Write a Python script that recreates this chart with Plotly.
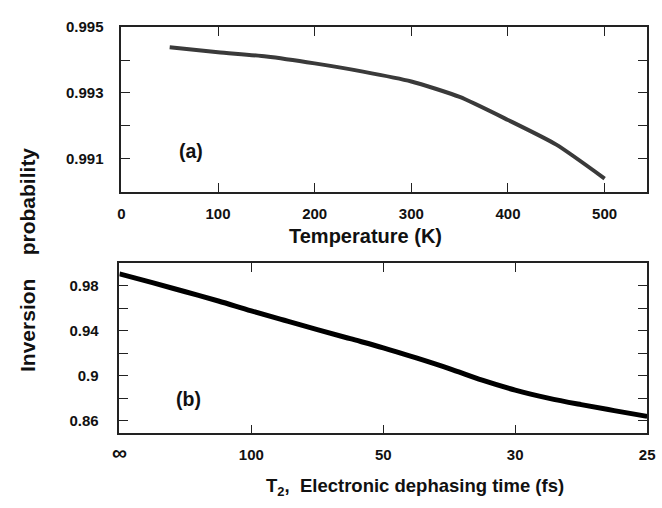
import plotly.graph_objects as go

# Panel (a): temperature dependence
temp_K = [50, 100, 150, 200, 250, 300, 350, 400, 450, 500]
prob_a = [0.99439, 0.99424, 0.99411, 0.99390, 0.99365, 0.99335, 0.99288, 0.99218, 0.99143, 0.99040]

# Panel (b): electronic dephasing (positions along axis labelled inf,100,50,30,25)
t2_pos = [0, 0.25, 0.5, 0.75, 1.0, 1.25, 1.5, 1.75, 2.0, 2.25, 2.5, 2.75, 3.0, 3.25, 3.5, 3.75, 4.0]
prob_b = [0.9907, 0.9829, 0.9748, 0.9666, 0.9578, 0.9495, 0.9412, 0.9331, 0.9250, 0.9160,
          0.9065, 0.8962, 0.8874, 0.8803, 0.8745, 0.8692, 0.8641]
t2_tickvals = [0, 1, 2, 3, 4]
t2_ticktext = ["<span style='font-size:21px'>∞</span>", "100", "50", "30", "25"]

a_xticks = [0, 100, 200, 300, 400, 500]
a_yticks = [0.991, 0.993, 0.995]
a_yticktext = ["0.991", "0.993", "0.995"]
a_yminor = [0.992, 0.994]
b_yticks = [0.86, 0.90, 0.94, 0.98]
b_yticktext = ["0.86", "0.9", "0.94", "0.98"]
b_yminor = [0.88, 0.92, 0.96]

W, H = 662, 508
FONT = "Liberation Sans, Arial, Helvetica, sans-serif"

def px(x):
    return x / W

def py(y):
    return 1 - y / H

fig = go.Figure()
fig.add_trace(go.Scatter(x=temp_K, y=prob_a, mode="lines",
                         line=dict(color="#3a3a3a", width=4, shape="spline", smoothing=0.6),
                         xaxis="x", yaxis="y", showlegend=False))
fig.add_trace(go.Scatter(x=t2_pos, y=prob_b, mode="lines",
                         line=dict(color="#000000", width=5, shape="spline", smoothing=1.0),
                         xaxis="x2", yaxis="y2", showlegend=False))

tickfont = dict(family=FONT, size=15, color="#111", weight="bold")
common = dict(showline=True, linecolor="#222", linewidth=1.6, mirror="ticks",
              ticks="inside", ticklen=9, tickwidth=1.4, tickcolor="#222",
              showgrid=False, zeroline=False, tickfont=tickfont,
              ticklabeloverflow="allow")
minor_style = dict(ticks="inside", ticklen=9, tickwidth=1.4, tickcolor="#222", showgrid=False)

fig.update_layout(
    width=W, height=H,
    margin=dict(l=0, r=0, t=0, b=0),
    paper_bgcolor="white", plot_bgcolor="white",
    xaxis=dict(domain=[px(117), px(655)], range=[0, 544], tickvals=a_xticks,
               anchor="y", ticklabelstandoff=7, **common),
    yaxis=dict(domain=[py(186), py(18.5)], range=[0.99, 0.995], tickvals=a_yticks,
               ticktext=a_yticktext, anchor="x", ticklabelstandoff=13,
               minor=dict(tickvals=a_yminor, **minor_style), **common),
    xaxis2=dict(domain=[px(115), px(655)], range=[0, 4.0001], tickvals=t2_tickvals,
                ticktext=t2_ticktext, anchor="y2", ticklabelstandoff=7, **common),
    yaxis2=dict(domain=[py(432), py(259)], range=[0.849, 1.0], tickvals=b_yticks,
                ticktext=b_yticktext, anchor="x2", ticklabelstandoff=16,
                minor=dict(tickvals=b_yminor, **minor_style), **common),
)

fig.add_annotation(text="Temperature (K)", x=px(367), y=py(231), xref="paper", yref="paper",
                   showarrow=False, font=dict(family=FONT, size=20, color="#111", weight="bold"),
                   xanchor="center", yanchor="middle")
fig.add_annotation(text="T<sub>2</sub>,  Electronic dephasing time (fs)", x=px(417), y=py(487),
                   xref="paper", yref="paper", showarrow=False,
                   font=dict(family=FONT, size=18.5, color="#111", weight="bold"),
                   xanchor="center", yanchor="middle")
fig.add_annotation(text="Inversion    probability", x=px(21), y=py(256), xref="paper",
                   yref="paper", showarrow=False,
                   font=dict(family=FONT, size=21, color="#111", weight="bold"), textangle=-90,
                   xanchor="center", yanchor="middle")
fig.add_annotation(text="(a)", x=px(188), y=py(145), xref="paper", yref="paper",
                   showarrow=False, font=dict(family=FONT, size=19.5, color="#111", weight="bold"),
                   xanchor="center", yanchor="middle")
fig.add_annotation(text="(b)", x=px(186), y=py(397), xref="paper", yref="paper",
                   showarrow=False, font=dict(family=FONT, size=19.5, color="#111", weight="bold"),
                   xanchor="center", yanchor="middle")

fig.write_html("out.html")
